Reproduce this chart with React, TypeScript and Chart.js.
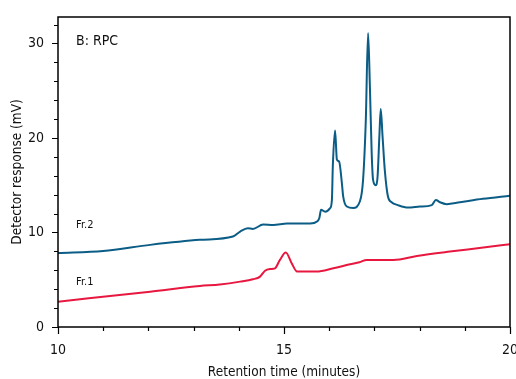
import React, { useEffect, useRef } from 'react';
import { Chart, registerables } from 'chart.js';

Chart.register(...registerables);

// Fr.2 trace (retention time in minutes, detector response in mV)
const fr2Time = [
  10.0, 11.0, 12.04, 13.14, 13.87, 14.03, 14.2, 14.31, 14.54, 14.76, 15.07, 15.35, 15.58,
  15.73, 15.78, 15.82, 15.91, 16.02, 16.06, 16.08, 16.13, 16.17, 16.22, 16.28, 16.31,
  16.39, 16.53, 16.68, 16.75, 16.81, 16.86, 16.9, 16.94, 16.97, 17.03, 17.07, 17.11,
  17.14, 17.18, 17.23, 17.3, 17.38, 17.52, 17.74, 18.01, 18.27, 18.36, 18.45, 18.6,
  18.89, 19.4, 20.0,
];
const fr2Signal = [
  7.84, 8.05, 8.69, 9.22, 9.57, 10.1, 10.45, 10.38, 10.84, 10.8, 10.94, 10.94, 10.94,
  11.15, 11.5, 12.4, 12.2, 12.57, 13.45, 17.0, 20.8, 17.7, 17.5, 15.25, 13.8,
  12.75, 12.6, 13.3, 15.6, 21.9, 31.1, 25.5, 18.4, 15.6, 15.0, 15.9, 20.2,
  23.06, 20.2, 16.6, 13.8, 13.2, 12.9, 12.64, 12.74, 12.9, 13.45, 13.2, 13.0,
  13.2, 13.56, 13.9,
];

// Fr.1 trace
const fr1Time = [
  10.0, 12.04, 13.14, 13.58, 14.03, 14.31, 14.47, 14.58, 14.69, 14.8, 14.91, 15.04,
  15.17, 15.29, 15.72, 16.09, 16.46, 16.67, 16.83, 17.42, 17.94, 18.67, 19.41, 20.0,
];
const fr1Signal = [
  2.68, 3.74, 4.34, 4.5, 4.8, 5.05, 5.33, 5.96, 6.14, 6.21, 7.1, 7.87,
  6.74, 5.86, 5.86, 6.21, 6.64, 6.85, 7.1, 7.1, 7.52, 7.98, 8.4, 8.76,
];

const xMajorTicks = [10, 15, 20];
const yMajorTicks = [0, 10, 20, 30];
const seriesNames = ['Fr.2', 'Fr.1'];
const seriesLabelPos = [
  [10.4, 10.8],
  [10.4, 4.7],
];
const panelLabel = 'B: RPC';
const panelLabelPos = [10.4, 30.2];
const xTitle = 'Retention time (minutes)';
const yTitle = 'Detector response (mV)';

const FONT = "'Liberation Sans Narrow', 'DejaVu Sans Condensed', 'Arial Narrow', sans-serif";
const BLUE = '#0b5d86';
const RED = '#e8173f';

const zeroPad = (s: any) => {
  s.paddingLeft = 0;
  s.paddingRight = 0;
  s.paddingTop = 0;
  s.paddingBottom = 0;
};

const framePlugin = {
  id: 'frameAndLabels',
  afterDraw(chart: any) {
    const { ctx, chartArea: a, scales } = chart;
    const x = scales.x;
    const y = scales.y;
    ctx.save();
    ctx.strokeStyle = '#000';
    ctx.lineWidth = 1.5;
    ctx.strokeRect(a.left, a.top, a.right - a.left, a.bottom - a.top);
    ctx.lineWidth = 1.2;
    ctx.beginPath();
    for (let v = 10; v <= 20; v += 1) {
      const px = Math.round(x.getPixelForValue(v)) + 0.5;
      const len = xMajorTicks.includes(v) ? 7 : 4;
      ctx.moveTo(px, a.bottom);
      ctx.lineTo(px, a.bottom + len);
    }
    for (let v = 0; v <= 32; v += 2) {
      const py = Math.round(y.getPixelForValue(v)) + 0.5;
      const len = yMajorTicks.includes(v) ? 6 : 4;
      ctx.moveTo(a.left, py);
      ctx.lineTo(a.left - len, py);
    }
    ctx.stroke();

    ctx.fillStyle = '#111';
    ctx.textBaseline = 'middle';
    ctx.textAlign = 'left';
    ctx.font = `14px ${FONT}`;
    ctx.fillText(panelLabel, x.getPixelForValue(panelLabelPos[0]), y.getPixelForValue(panelLabelPos[1]));
    ctx.font = `11px ${FONT}`;
    seriesNames.forEach((n, i) => {
      ctx.fillText(n, x.getPixelForValue(seriesLabelPos[i][0]), y.getPixelForValue(seriesLabelPos[i][1]));
    });
    ctx.restore();
  },
};

export default function App() {
  const ref = useRef<HTMLCanvasElement | null>(null);
  useEffect(() => {
    if (!ref.current) return;
    const chart = new Chart(ref.current, {
      type: 'line',
      data: {
        datasets: [
          {
            label: seriesNames[0],
            data: fr2Time.map((t, i) => ({ x: t, y: fr2Signal[i] })),
            borderColor: BLUE,
            borderWidth: 2,
            pointRadius: 0,
            cubicInterpolationMode: 'monotone',
            fill: false,
          },
          {
            label: seriesNames[1],
            data: fr1Time.map((t, i) => ({ x: t, y: fr1Signal[i] })),
            borderColor: RED,
            borderWidth: 2,
            pointRadius: 0,
            cubicInterpolationMode: 'monotone',
            fill: false,
          },
        ],
      },
      options: {
        animation: false,
        responsive: false,
        maintainAspectRatio: false,
        layout: { padding: { top: 17, right: 6, left: 0, bottom: 0 } },
        plugins: { legend: { display: false }, tooltip: { enabled: false } },
        scales: {
          x: {
            type: 'linear',
            min: 10,
            max: 20,
            afterFit: (s: any) => {
              s.height = 52;
              zeroPad(s);
            },
            border: { display: false },
            grid: { drawOnChartArea: false, drawTicks: false },
            ticks: {
              stepSize: 1,
              autoSkip: false,
              padding: 15,
              color: '#111',
              font: { family: FONT, size: 14 },
              maxRotation: 0,
              callback: (v: any) => (xMajorTicks.includes(Number(v)) ? String(v) : ''),
            },
            title: {
              display: true,
              text: xTitle,
              color: '#111',
              font: { family: FONT, size: 13.5 },
              padding: { top: 0, bottom: -2 },
            },
          },
          y: {
            type: 'linear',
            min: 0,
            max: 32.8,
            afterFit: (s: any) => {
              s.width = 58;
              zeroPad(s);
            },
            border: { display: false },
            grid: { drawOnChartArea: false, drawTicks: false },
            ticks: {
              stepSize: 2,
              autoSkip: false,
              includeBounds: false,
              padding: 14,
              color: '#111',
              font: { family: FONT, size: 14 },
              callback: (v: any) => (yMajorTicks.includes(Number(v)) ? String(v) : ''),
            },
            title: {
              display: true,
              text: yTitle,
              color: '#111',
              font: { family: FONT, size: 13.5 },
              padding: { top: 9, bottom: 0 },
            },
          },
        },
      },
      plugins: [framePlugin],
    });
    return () => chart.destroy();
  }, []);
  return (
    <div style={{ position: 'fixed', left: 0, top: 0, width: 516, height: 379, background: '#fff' }}>
      <canvas ref={ref} width={516} height={379} style={{ width: 516, height: 379, display: 'block' }} />
    </div>
  );
}
